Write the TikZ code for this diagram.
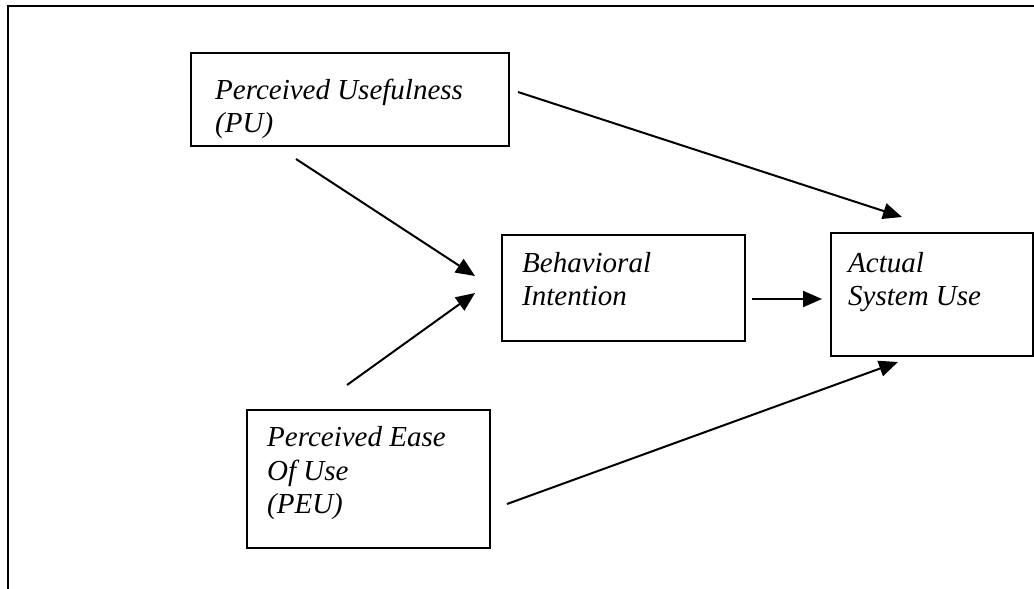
\documentclass[tikz,border=0pt]{standalone}
\usepackage{fontspec}
\setmainfont{Liberation Serif}
\usetikzlibrary{arrows.meta}
\begin{document}
\begin{tikzpicture}[x=1pt,y=-1pt,
  box/.style={draw,line width=2pt,anchor=north west,inner sep=0pt},
  lbl/.style={anchor=base west,inner sep=0pt,font=\fontsize{29}{33.5}\selectfont\itshape},
  arr/.style={line width=2pt,-{Triangle[length=19pt,width=16pt]}}]
\useasboundingbox (0,0) rectangle (1034,589);
\draw[line width=2pt] (8,600) -- (8,6) -- (1040,6);
% boxes
\node[box,minimum width=318pt,minimum height=93pt] (pu) at (190,52) {};
\node[box,minimum width=243pt,minimum height=106pt] (bi) at (501,234) {};
\node[box,minimum width=202pt,minimum height=123pt] (asu) at (830,232) {};
\node[box,minimum width=243pt,minimum height=138pt] (peu) at (246,409) {};
% labels
\node[lbl] (pu1) at (215,99) {Perceived Usefulness};
\node[lbl] (pu2) at (215,132) {(PU)};
\node[lbl] (bi1) at (522,272) {Behavioral};
\node[lbl] (bi2) at (522,305) {Intention};
\node[lbl] (asu1) at (848,272) {Actual};
\node[lbl] (asu2) at (848,305) {System Use};
\node[lbl] (peu1) at (267,446) {Perceived Ease};
\node[lbl] (peu2) at (267,480) {Of Use};
\node[lbl] (peu3) at (267,513) {(PEU)};
% connector ends
\coordinate (a1s) at (518,92);  \coordinate (a1e) at (902,217);
\coordinate (a2s) at (296,159); \coordinate (a2e) at (475,276);
\coordinate (a3s) at (347,385); \coordinate (a3e) at (475,293);
\coordinate (a4s) at (752,299); \coordinate (a4e) at (822,299);
\coordinate (a5s) at (507,504); \coordinate (a5e) at (898,362);
\draw[arr] (a1s) -- (a1e);
\draw[arr] (a2s) -- (a2e);
\draw[arr] (a3s) -- (a3e);
\draw[arr] (a4s) -- (a4e);
\draw[arr] (a5s) -- (a5e);
\end{tikzpicture}
\end{document}
